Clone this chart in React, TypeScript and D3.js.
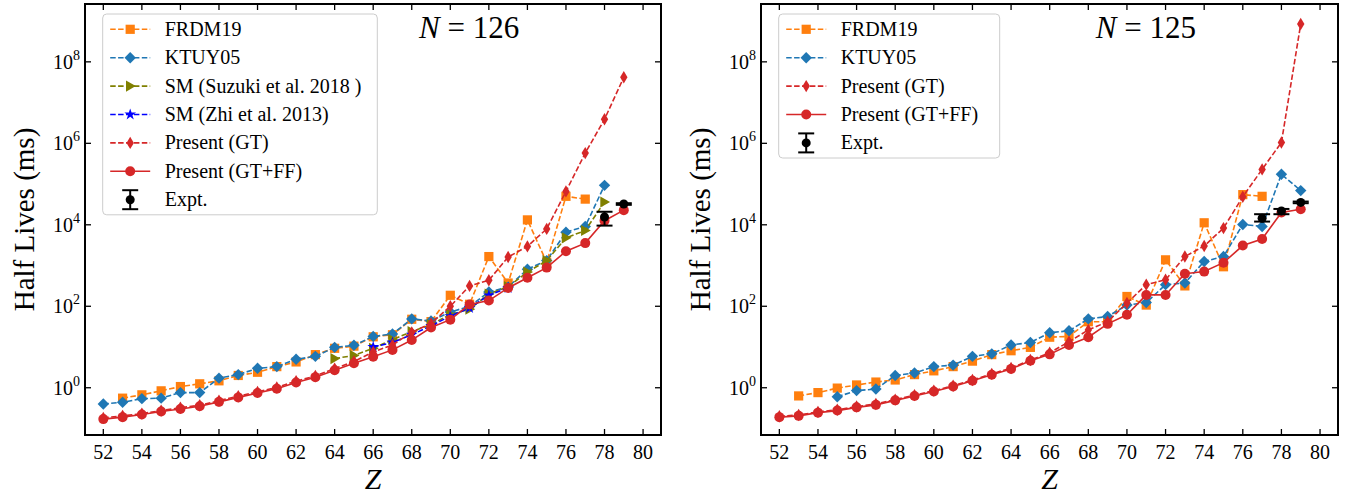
import React from "react";
import * as d3 from "d3";

// ---------- data ----------
const Z = [52, 53, 54, 55, 56, 57, 58, 59, 60, 61, 62, 63, 64, 65, 66, 67, 68, 69, 70, 71, 72, 73, 74, 75, 76, 77, 78, 79];
const xTicks = [52, 54, 56, 58, 60, 62, 64, 66, 68, 70, 72, 74, 76, 78, 80];
const yTickExps = [0, 2, 4, 6, 8];

type V = number | null;

// N = 126 (left)
const n126FRDM: V[] = [null, 0.555, 0.67, 0.84, 1.07, 1.25, 1.48, 2.0, 2.4, 3.3, 4.3, 6.5, 9.3, 10.5, 17.8, 20, 48, 42, 186, 112, 1660, 372, 13200, 1200, 50000, 42700, null, null];
const n126KTUY: V[] = [0.40, 0.44, 0.54, 0.555, 0.76, 0.76, 1.72, 2.1, 3.0, 3.3, 5.0, 5.9, 9.8, 11, 18.2, 20.9, 49, 43.7, 72, 100, 224, 295, 813, 1320, 6600, 9100, 93000, null];
const n126Suzuki: V[] = [null, null, null, null, null, null, null, null, null, null, null, null, 5.2, 6.2, 9.3, 15.1, 24, 35.5, 63, 85, 200, 302, 692, 1320, 4790, 7240, 36300, null];
const n126Zhi: V[] = [null, null, null, null, null, null, null, null, null, null, null, null, null, null, 10, 12.9, 20, 33, 57.5, 91, 186, 282, null, null, null, null, null, null];
const n126GT: V[] = [0.182, 0.204, 0.232, 0.275, 0.324, 0.372, 0.48, 0.62, 0.79, 1.02, 1.45, 1.95, 2.95, 4.4, 7.6, 11.2, 22.9, 38, 100, 316, 436, 1620, 2950, 7940, 66000, 575000, 3.9e6, 4.17e7];
const n126GTFF: V[] = [0.17, 0.19, 0.22, 0.26, 0.30, 0.35, 0.45, 0.58, 0.74, 0.95, 1.35, 1.82, 2.7, 4.0, 5.8, 8.5, 14.8, 30, 47, 110, 138, 282, 500, 890, 2240, 3550, 12600, 22900];
const n126ExptZ = [78, 79];
const n126Expt = [15500, 32400];
const n126ExptLo = [9550, 30900];
const n126ExptHi = [20900, 33900];

// N = 125 (right)
const n125FRDM: V[] = [null, 0.63, 0.76, 0.98, 1.17, 1.38, 1.55, 2.1, 2.6, 3.3, 4.5, 6.5, 8.1, 9.8, 17.4, 18.2, 41.7, 41.7, 174, 107, 1380, 316, 11200, 933, 55000, 50000, null, null];
const n125KTUY: V[] = [null, null, null, 0.60, 0.85, 0.93, 2.0, 2.3, 3.3, 3.6, 5.9, 6.8, 11.2, 12.9, 22.4, 25, 49, 56, 107, 123, 339, 372, 1260, 1660, 10200, 9100, 174000, 69000];
const n125GT: V[] = [0.20, 0.214, 0.256, 0.288, 0.345, 0.40, 0.51, 0.66, 0.85, 1.12, 1.55, 2.19, 3.05, 4.8, 7.2, 13.5, 26.3, 41.7, 120, 339, 447, 1660, 3020, 8300, 49000, 229000, 1.05e6, 8.5e8];
const n125GTFF: V[] = [0.19, 0.204, 0.245, 0.275, 0.33, 0.38, 0.49, 0.63, 0.81, 1.07, 1.48, 2.09, 2.9, 4.6, 6.6, 11.2, 17.4, 37, 62, 190, 190, 630, 710, 1175, 3090, 4470, 20000, 24000];
const n125ExptZ = [77, 78, 79];
const n125Expt = [14500, 21900, 35500];
const n125ExptLo = [12000, 18200, 33900];
const n125ExptHi = [18200, 24500, 37200];

// ---------- styling ----------
const FONT = "'Liberation Serif', 'DejaVu Serif', serif";
const W = 1357;
const H = 494;
const TOP = 4;
const BOTTOM = 435;
const X_DOMAIN: [number, number] = [51.05, 80.93];
const Y_DOMAIN: [number, number] = [Math.pow(10, -1.16), Math.pow(10, 9.42)];

type MarkerKind = "square" | "D" | "d" | "tri" | "star" | "circle";

const starPath = d3.symbol().type(d3.symbolStar).size(42)() as string;

function markerPath(kind: MarkerKind): string {
  switch (kind) {
    case "square":
      return "M-4.6,-4.6H4.6V4.6H-4.6Z";
    case "D":
      return "M0,-5.7L5.7,0L0,5.7L-5.7,0Z";
    case "d":
      return "M0,-6.2L3.7,0L0,6.2L-3.7,0Z";
    case "tri":
      return "M5.6,0L-4.2,-5.6L-4.2,5.6Z";
    case "star":
      return starPath;
    default:
      return "";
  }
}

interface Series {
  name: string;
  values: V[];
  color: string;
  marker: MarkerKind;
  dashed: boolean;
}

function Marker({ kind, x, y, color }: { kind: MarkerKind; x: number; y: number; color: string }) {
  if (kind === "circle") return <circle cx={x} cy={y} r={5} fill={color} />;
  return <path d={markerPath(kind)} transform={`translate(${x},${y})`} fill={color} />;
}

interface PanelProps {
  x0: number;
  x1: number;
  title: string;
  series: Series[];
  exptZ: number[];
  expt: number[];
  exptLo: number[];
  exptHi: number[];
  legendWidth: number;
}

function Panel(p: PanelProps) {
  const x = d3.scaleLinear().domain(X_DOMAIN).range([p.x0, p.x1]);
  const y = d3.scaleLog().domain(Y_DOMAIN).range([BOTTOM, TOP]);
  const line = d3
    .line<[number, V]>()
    .defined((d) => d[1] != null)
    .x((d) => x(d[0]))
    .y((d) => y(d[1] as number));

  const legendX = p.x0 + 17.7;
  const legendY = 14;
  const rowStep = 28.4;
  const rows = p.series.length + 1;
  const legendH = rows * rowStep + 2;
  const cx = (p.x0 + p.x1) / 2;
  const cy = (TOP + BOTTOM) / 2;

  return (
    <g>
      {/* data */}
      {p.series.map((s) => {
        const pts: [number, V][] = Z.map((z, i) => [z, s.values[i]]);
        return (
          <g key={s.name}>
            <path
              d={line(pts) || ""}
              fill="none"
              stroke={s.color}
              strokeWidth={1.6}
              strokeDasharray={s.dashed ? "5.5,2.4" : undefined}
            />
            {pts
              .filter((d) => d[1] != null)
              .map((d) => (
                <Marker key={d[0]} kind={s.marker} x={x(d[0])} y={y(d[1] as number)} color={s.color} />
              ))}
          </g>
        );
      })}
      {/* experimental */}
      {p.exptZ.map((z, i) => (
        <g key={"e" + z}>
          <line x1={x(z)} x2={x(z)} y1={y(p.exptLo[i])} y2={y(p.exptHi[i])} stroke="#000" strokeWidth={2} />
          <line x1={x(z) - 8} x2={x(z) + 8} y1={y(p.exptLo[i])} y2={y(p.exptLo[i])} stroke="#000" strokeWidth={2} />
          <line x1={x(z) - 8} x2={x(z) + 8} y1={y(p.exptHi[i])} y2={y(p.exptHi[i])} stroke="#000" strokeWidth={2} />
          <circle cx={x(z)} cy={y(p.expt[i])} r={4.5} fill="#000" />
        </g>
      ))}

      {/* frame */}
      <rect x={p.x0} y={TOP} width={p.x1 - p.x0} height={BOTTOM - TOP} fill="none" stroke="#000" strokeWidth={2} />

      {/* x ticks */}
      {xTicks.map((t) => (
        <g key={"x" + t}>
          <line x1={x(t)} x2={x(t)} y1={BOTTOM} y2={BOTTOM - 6} stroke="#000" strokeWidth={1.3} />
          <line x1={x(t)} x2={x(t)} y1={TOP} y2={TOP + 6} stroke="#000" strokeWidth={1.3} />
          <text x={x(t)} y={459} textAnchor="middle" fontSize={20} fontFamily={FONT}>
            {t}
          </text>
        </g>
      ))}
      {/* y ticks */}
      {yTickExps.map((e) => {
        const yy = y(Math.pow(10, e));
        return (
          <g key={"y" + e}>
            <line x1={p.x0} x2={p.x0 + 6} y1={yy} y2={yy} stroke="#000" strokeWidth={1.3} />
            <line x1={p.x1} x2={p.x1 - 6} y1={yy} y2={yy} stroke="#000" strokeWidth={1.3} />
            <text x={p.x0 - 5} y={yy + 7} textAnchor="end" fontSize={20} fontFamily={FONT}>
              10
              <tspan dy={-9} fontSize={14}>
                {e}
              </tspan>
            </text>
          </g>
        );
      })}

      {/* axis labels */}
      <text
        x={0}
        y={0}
        transform={`translate(${p.x0 - 51},${cy}) rotate(-90)`}
        textAnchor="middle"
        fontSize={29}
        fontFamily={FONT}
      >
        Half Lives (ms)
      </text>
      <text x={cx} y={489} textAnchor="middle" fontSize={30} fontStyle="italic" fontFamily={FONT}>
        Z
      </text>

      {/* title */}
      <text x={p.x0 + 0.667 * (p.x1 - p.x0)} y={38} textAnchor="middle" fontSize={31} fontFamily={FONT}>
        <tspan fontStyle="italic">N</tspan> = {p.title}
      </text>

      {/* legend */}
      <rect
        x={legendX}
        y={legendY}
        width={p.legendWidth}
        height={legendH}
        rx={4}
        ry={4}
        fill="#fff"
        fillOpacity={0.8}
        stroke="#cccccc"
        strokeWidth={1}
      />
      {p.series.map((s, i) => {
        const ry = legendY + 15.3 + i * rowStep;
        return (
          <g key={"l" + s.name}>
            <line
              x1={legendX + 7.5}
              x2={legendX + 47.5}
              y1={ry}
              y2={ry}
              stroke={s.color}
              strokeWidth={1.6}
              strokeDasharray={s.dashed ? "5.5,2.4" : undefined}
            />
            <Marker kind={s.marker} x={legendX + 27.5} y={ry} color={s.color} />
            <text x={legendX + 62} y={ry + 6.5} fontSize={20} fontFamily={FONT}>
              {s.name}
            </text>
          </g>
        );
      })}
      {(() => {
        const ry = legendY + 15.3 + p.series.length * rowStep;
        const lx = legendX + 27.5;
        return (
          <g>
            <line x1={lx} x2={lx} y1={ry - 9.5} y2={ry + 9.5} stroke="#000" strokeWidth={2} />
            <line x1={lx - 8} x2={lx + 8} y1={ry - 9.5} y2={ry - 9.5} stroke="#000" strokeWidth={2} />
            <line x1={lx - 8} x2={lx + 8} y1={ry + 9.5} y2={ry + 9.5} stroke="#000" strokeWidth={2} />
            <circle cx={lx} cy={ry} r={4.5} fill="#000" />
            <text x={legendX + 62} y={ry + 6.5} fontSize={20} fontFamily={FONT}>
              Expt.
            </text>
          </g>
        );
      })()}
    </g>
  );
}

const ORANGE = "#ff7f0e";
const TBLUE = "#1f77b4";
const OLIVE = "#808000";
const BLUE = "#0000ff";
const RED = "#d62728";

const leftSeries: Series[] = [
  { name: "FRDM19", values: n126FRDM, color: ORANGE, marker: "square", dashed: true },
  { name: "KTUY05", values: n126KTUY, color: TBLUE, marker: "D", dashed: true },
  { name: "SM (Suzuki et al. 2018 )", values: n126Suzuki, color: OLIVE, marker: "tri", dashed: true },
  { name: "SM (Zhi et al. 2013)", values: n126Zhi, color: BLUE, marker: "star", dashed: true },
  { name: "Present (GT)", values: n126GT, color: RED, marker: "d", dashed: true },
  { name: "Present (GT+FF)", values: n126GTFF, color: RED, marker: "circle", dashed: false },
];

const rightSeries: Series[] = [
  { name: "FRDM19", values: n125FRDM, color: ORANGE, marker: "square", dashed: true },
  { name: "KTUY05", values: n125KTUY, color: TBLUE, marker: "D", dashed: true },
  { name: "Present (GT)", values: n125GT, color: RED, marker: "d", dashed: true },
  { name: "Present (GT+FF)", values: n125GTFF, color: RED, marker: "circle", dashed: false },
];

export default function App() {
  return (
    <svg
      width={W}
      height={H}
      viewBox={`0 0 ${W} ${H}`}
      style={{ position: "absolute", left: 0, top: 0, background: "#fff" }}
    >
      <rect x={0} y={0} width={W} height={H} fill="#fff" />
      <Panel
        x0={85}
        x1={661}
        title="126"
        series={leftSeries}
        exptZ={n126ExptZ}
        expt={n126Expt}
        exptLo={n126ExptLo}
        exptHi={n126ExptHi}
        legendWidth={274.6}
      />
      <Panel
        x0={761}
        x1={1338}
        title="125"
        series={rightSeries}
        exptZ={n125ExptZ}
        expt={n125Expt}
        exptLo={n125ExptLo}
        exptHi={n125ExptHi}
        legendWidth={221}
      />
    </svg>
  );
}
